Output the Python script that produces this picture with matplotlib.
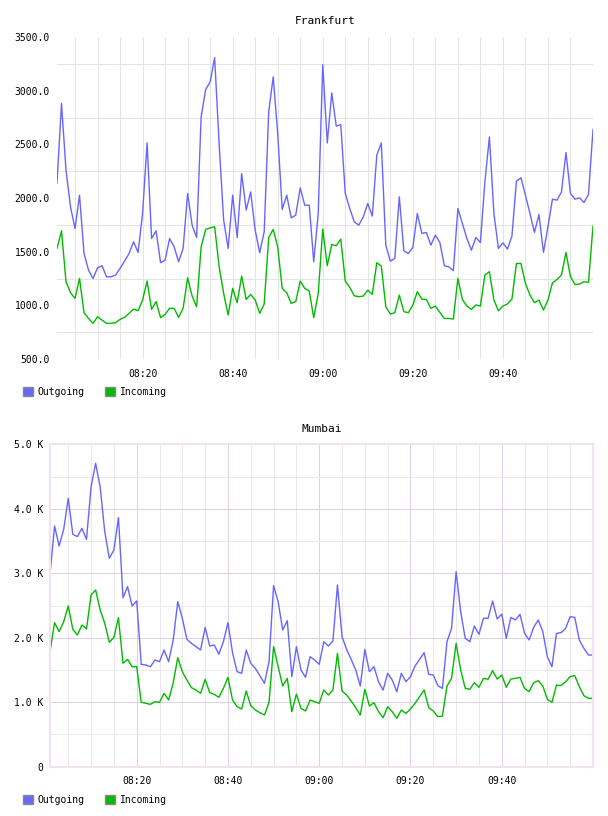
import pandas as pd
import matplotlib
matplotlib.use("Agg")
import matplotlib.pyplot as plt
import matplotlib.dates as mdates
from matplotlib.patches import Patch
from matplotlib.ticker import FixedLocator, FuncFormatter

# one sample per minute, 08:01 .. 10:00
times = pd.date_range("2024-01-01 08:01", periods=120, freq="min")
tick_times = pd.to_datetime(["2024-01-01 08:20", "2024-01-01 08:40", "2024-01-01 09:00",
                             "2024-01-01 09:20", "2024-01-01 09:40"])

fra_out = [2141, 2880, 2259, 1918, 1716, 2026, 1483, 1328, 1250, 1350,
           1369, 1266, 1266, 1282, 1344, 1412, 1483, 1592, 1493, 1856,
           2513, 1623, 1694, 1397, 1421, 1623, 1545, 1406, 1530, 2042,
           1747, 1632, 2755, 3010, 3081, 3308, 2500, 1794, 1530, 2026,
           1632, 2228, 1887, 2057, 1700, 1490, 1685, 2802, 3128, 2600,
           1893, 2026, 1815, 1840, 2095, 1933, 1933, 1406, 1856, 3242,
           2513, 2979, 2669, 2684, 2042, 1902, 1778, 1747, 1825, 1949,
           1831, 2399, 2513, 1561, 1412, 1437, 2011, 1508, 1483, 1539,
           1856, 1670, 1679, 1561, 1654, 1586, 1369, 1359, 1322, 1902,
           1763, 1623, 1514, 1632, 1586, 2150, 2569, 1856, 1530, 1583,
           1524, 1645, 2157, 2188, 2026, 1856, 1679, 1846, 1493, 1732,
           1989, 1980, 2057, 2423, 2042, 1989, 2002, 1958, 2033, 2638]
fra_in = [1530, 1694, 1220, 1117, 1065, 1251, 931, 878, 832, 894,
          863, 832, 832, 838, 869, 888, 925, 965, 950, 1049,
          1226, 962, 1034, 885, 916, 972, 972, 888, 972, 1257,
          1086, 987, 1545, 1707, 1722, 1732, 1359, 1111, 910, 1158,
          1024, 1272, 1055, 1102, 1049, 925, 1012, 1632, 1707, 1545,
          1158, 1117, 1018, 1034, 1226, 1158, 1133, 885, 1111, 1710,
          1369, 1567, 1555, 1617, 1226, 1167, 1089, 1080, 1086, 1142,
          1102, 1397, 1366, 987, 919, 931, 1095, 941, 931, 1003,
          1127, 1058, 1055, 972, 993, 934, 878, 878, 872, 1251,
          1055, 993, 962, 1003, 993, 1282, 1313, 1049, 950, 993,
          1012, 1058, 1390, 1390, 1204, 1095, 1024, 1049, 956, 1049,
          1210, 1241, 1282, 1493, 1266, 1195, 1198, 1220, 1214, 1738]

mum_out = [2984, 3733, 3423, 3681, 4162, 3604, 3568, 3697, 3526, 4343,
           4705, 4333, 3645, 3232, 3361, 3863, 2622, 2792, 2492, 2570,
           1588, 1577, 1551, 1655, 1629, 1810, 1629, 1965, 2560, 2301,
           1975, 1913, 1862, 1810, 2161, 1872, 1887, 1743, 1939, 2234,
           1768, 1474, 1448, 1810, 1603, 1525, 1412, 1293, 1629, 2808,
           2560, 2120, 2265, 1396, 1862, 1500, 1386, 1706, 1655, 1588,
           1939, 1872, 1949, 2818, 2017, 1820, 1665, 1500, 1251, 1820,
           1474, 1551, 1318, 1189, 1448, 1344, 1163, 1448, 1318, 1396,
           1562, 1665, 1768, 1432, 1422, 1257, 1215, 1939, 2146, 3025,
           2404, 1991, 1939, 2182, 2053, 2301, 2301, 2570, 2291, 2368,
           1991, 2316, 2275, 2363, 2068, 1965, 2161, 2275, 2094, 1706,
           1551, 2068, 2079, 2146, 2327, 2316, 1965, 1836, 1732, 1732]
mum_in = [1784, 2234, 2094, 2249, 2492, 2130, 2042, 2198, 2136, 2663,
          2740, 2430, 2223, 1929, 2006, 2311, 1603, 1665, 1551, 1551,
          998, 983, 967, 1008, 998, 1138, 1034, 1303, 1691, 1474,
          1344, 1226, 1189, 1138, 1355, 1148, 1122, 1076, 1215, 1386,
          1034, 931, 895, 1174, 946, 879, 838, 802, 998, 1862,
          1551, 1251, 1370, 853, 1127, 905, 864, 1034, 1008, 983,
          1189, 1112, 1189, 1758, 1174, 1112, 1019, 915, 802, 1200,
          941, 993, 853, 760, 931, 853, 750, 879, 827, 895,
          983, 1086, 1189, 915, 864, 776, 786, 1251, 1370, 1913,
          1500, 1215, 1200, 1303, 1231, 1370, 1355, 1489, 1360, 1422,
          1231, 1360, 1370, 1386, 1215, 1163, 1303, 1334, 1251, 1045,
          998, 1267, 1257, 1318, 1396, 1412, 1241, 1102, 1060, 1060]

fra_ticks = [500, 1000, 1500, 2000, 2500, 3000, 3500]
fra_grid = [750, 1250, 1750, 2250, 2750, 3250]
mum_ticks = [0, 1000, 2000, 3000, 4000, 5000]
mum_grid = [500, 1500, 2500, 3500, 4500]

OUT_C = "#6666ff"
IN_C = "#00bb00"
FONT = "DejaVu Sans Mono"

fig = plt.figure(figsize=(6.08, 8.16), dpi=100)
ax1 = fig.add_axes([57 / 608, 1 - 359 / 816, 536 / 608, 322 / 816])
ax2 = fig.add_axes([50 / 608, 1 - 766.7 / 816, 543 / 608, 322.4 / 816])

for ax, out_v, in_v in ((ax1, fra_out, fra_in), (ax2, mum_out, mum_in)):
    ax.plot(times, out_v, color=OUT_C, lw=1.0)
    ax.plot(times, in_v, color=IN_C, lw=1.0)
    ax.set_xlim(times[0], times[-1])
    ax.xaxis.set_major_locator(FixedLocator(mdates.date2num(tick_times)))
    ax.xaxis.set_major_formatter(mdates.DateFormatter("%H:%M"))
    ax.xaxis.set_minor_locator(mdates.MinuteLocator(byminute=range(0, 60, 5)))
    ax.tick_params(which="both", length=0, labelsize=7)
    ax.tick_params(axis="x", pad=7)
    ax.tick_params(axis="y", pad=5)
    ax.set_axisbelow(True)

# Frankfurt
ax1.set_ylim(500, 3500)
ax1.yaxis.set_major_locator(FixedLocator(fra_ticks))
ax1.yaxis.set_minor_locator(FixedLocator(fra_grid))
ax1.yaxis.set_major_formatter(FuncFormatter(lambda v, p: f"{v:.1f}"))
ax1.grid(which="minor", color="#e4e4e4", lw=0.75)
ax1.grid(which="major", axis="x", color="#e4e4e4", lw=0.75)
ax1.grid(which="major", axis="y", visible=False)
for s in ax1.spines.values():
    s.set_visible(False)
ax1.set_title("Frankfurt", fontfamily=FONT, fontsize=8, pad=9)

# Mumbai
ax2.set_ylim(0, 5000)
ax2.yaxis.set_major_locator(FixedLocator(mum_ticks))
ax2.yaxis.set_minor_locator(FixedLocator(mum_grid))
ax2.yaxis.set_major_formatter(FuncFormatter(lambda v, p: "0" if v == 0 else f"{v / 1000:.1f} K"))
ax2.grid(which="minor", color="#ece8ed", lw=0.75)
ax2.grid(which="major", color="#e2cfe6", lw=0.75)
for s in ax2.spines.values():
    s.set_color("#f0e2f1")
    s.set_linewidth(1.5)
ax2.set_title("Mumbai", fontfamily=FONT, fontsize=8, pad=9)

for ax in (ax1, ax2):
    for lab in ax.get_xticklabels() + ax.get_yticklabels():
        lab.set_fontfamily(FONT)

handles = [Patch(facecolor=OUT_C, edgecolor="#888888", label="Outgoing"),
           Patch(facecolor=IN_C, edgecolor="#888888", label="Incoming")]
for ypx in (392, 800):
    fig.legend(handles=handles, loc="center left", bbox_to_anchor=(23 / 608, 1 - ypx / 816),
               ncol=2, frameon=False, prop={"family": FONT, "size": 7},
               handlelength=1.0, handleheight=1.0, handletextpad=0.5,
               columnspacing=2.1, borderaxespad=0, borderpad=0)

fig.savefig("out.png", dpi=100)
